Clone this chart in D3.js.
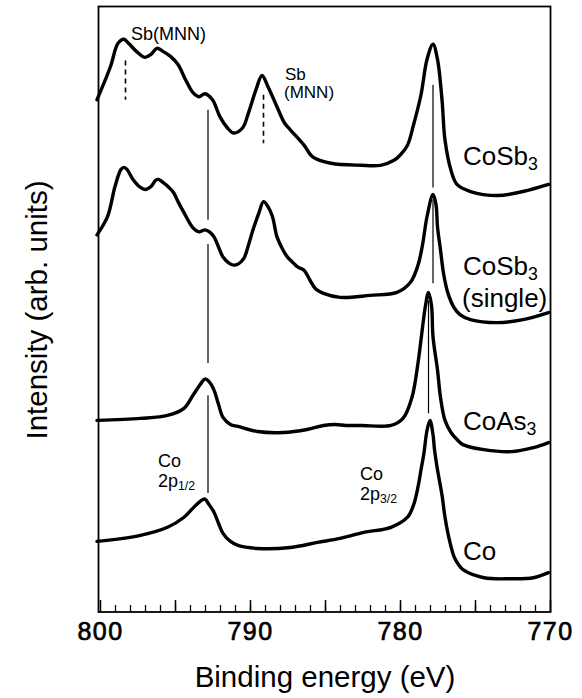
<!DOCTYPE html>
<html>
<head>
<meta charset="utf-8">
<script src="https://cdn.jsdelivr.net/npm/d3@7"></script>
<style>
  body { margin: 0; background: #fff; }
  svg { display: block; font-family: "Liberation Sans", Arial, Helvetica, sans-serif; }
</style>
</head>
<body>
<svg id="chart" width="582" height="698"></svg>
<script>
// spectra: [binding energy (eV), intensity (arb. units, offset stacked)]
var coSb3 = [
  [800.2,50.8],[799.3,54.1],[798.8,56.4],[798.4,56.8],[798.1,56.4],[797.5,55.5],[797.0,55.0],
  [796.6,55.3],[796.2,55.9],[795.8,55.6],[795.3,55.1],[794.8,54.3],[794.3,52.8],[793.8,51.5],
  [793.4,51.1],[793.0,51.4],[792.5,50.8],[792.0,49.1],[791.5,48.0],[791.1,47.5],[790.5,48.0],
  [790.1,49.5],[789.6,51.8],[789.2,53.2],[788.8,52.1],[788.2,50.1],[787.7,48.5],[787.3,47.8],
  [786.4,46.3],[785.8,45.1],[784.6,44.5],[782.6,44.3],[781.3,44.3],[780.4,44.8],[780.0,45.3],
  [779.5,46.3],[779.1,48.3],[778.6,51.3],[778.2,54.8],[777.8,56.3],[777.5,54.8],[777.2,50.8],
  [777.0,46.8],[776.6,43.8],[776.2,42.4],[775.3,41.7],[773.5,41.3],[771.8,41.7],[770.1,42.4]
];
var coSb3Single = [
  [800.2,37.4],[799.5,39.2],[799.0,42.2],[798.6,43.9],[798.4,44.1],[798.2,43.9],[797.8,42.9],
  [797.3,42.1],[797.0,41.9],[796.6,42.2],[796.3,42.8],[796.1,42.9],[795.8,42.6],[795.4,42.1],
  [795.1,41.6],[794.8,40.7],[794.4,39.6],[793.8,38.1],[793.4,37.7],[793.0,37.9],[792.7,37.7],
  [792.4,37.2],[792.1,36.2],[791.8,35.2],[791.4,34.6],[791.1,34.4],[790.8,34.5],[790.4,35.1],
  [790.1,36.4],[789.8,37.9],[789.4,39.6],[789.1,40.7],[788.8,40.2],[788.5,39.2],[788.2,37.2],
  [787.8,35.9],[787.5,35.2],[787.1,34.6],[786.8,34.2],[786.4,33.9],[786.0,32.9],[785.6,32.0],
  [785.1,31.6],[784.0,31.2],[782.0,31.4],[780.2,31.7],[779.3,32.7],[778.8,34.4],[778.5,36.4],
  [778.2,39.2],[777.8,41.4],[777.6,40.4],[777.5,38.2],[777.3,35.9],[777.1,33.6],[776.8,31.6],
  [776.4,30.2],[776.0,29.5],[775.3,29.0],[773.5,28.7],[771.8,29.0],[770.1,29.7]
];
var coAs3 = [
  [800.2,19.0],[797.3,19.2],[795.5,19.5],[794.4,20.2],[793.8,21.5],[793.3,22.6],[793.0,23.1],
  [792.7,22.8],[792.4,22.0],[792.1,20.6],[791.8,19.3],[791.3,18.6],[790.8,18.4],[789.5,17.9],
  [787.8,17.8],[786.2,18.1],[785.1,18.5],[784.3,18.6],[783.6,18.5],[782.6,18.5],[780.6,18.5],
  [779.8,19.2],[779.2,21.3],[778.8,24.7],[778.6,27.0],[778.3,30.4],[778.1,31.7],[777.9,30.4],
  [777.8,27.3],[777.5,24.0],[777.3,21.3],[777.0,19.0],[776.6,17.8],[776.2,17.1],[775.8,16.6],
  [774.4,16.1],[772.6,15.9],[771.1,16.3],[770.1,16.8]
];
var coMetal = [
  [800.2,7.0],[797.3,7.6],[795.5,8.4],[794.4,9.4],[793.8,10.3],[793.3,11.0],[793.0,11.2],
  [792.8,10.8],[792.4,9.9],[792.1,8.8],[791.8,7.8],[791.3,7.0],[790.8,6.6],[789.5,6.3],
  [787.3,6.4],[785.5,6.9],[784.0,7.3],[782.4,7.9],[780.6,8.4],[779.5,9.4],[779.1,10.6],
  [778.8,12.4],[778.6,14.1],[778.4,15.8],[778.2,18.0],[778.0,19.0],[777.8,17.6],[777.7,16.1],
  [777.5,14.1],[777.2,11.6],[777.0,9.4],[776.7,7.1],[776.4,5.5],[776.1,4.7],[775.8,4.2],
  [774.4,3.4],[772.6,3.3],[771.1,3.4],[770.1,3.9]
];

var minorTicks = d3.range(799, 770, -1);
var majorTicks = [800, 795, 790, 785, 780, 775, 770];
var tickLabels = [800, 790, 780, 770];

// marker lines: [energy, intensity from, intensity to]
var solidMarks = [
  [792.8, 49.8, 38.9], [792.8, 36.5, 24.7], [792.8, 21.5, 11.8],
  [777.8, 52.3, 42.1], [777.8, 40.9, 32.6], [778.1, 30.9, 19.7]
];
var dashedMarks = [[798.3, 54.7, 50.8], [789.1, 51.3, 46.5]];

var svg = d3.select("#chart");
var frameL = 98.5, frameR = 550.5, frameT = 6.5, frameB = 612;

var x = d3.scaleLinear().domain([800, 770]).range([100, 550]);
var y = d3.scaleLinear().domain([0, 60]).range([frameB, 7]);

// frame
svg.append("rect")
  .attr("x", frameL).attr("y", frameT)
  .attr("width", frameR - frameL).attr("height", frameB - frameT)
  .attr("fill", "none").attr("stroke", "#000").attr("stroke-width", 1.8);

// inward ticks
svg.append("g").attr("transform", "translate(0," + frameB + ")")
  .call(d3.axisBottom(x).tickValues(minorTicks).tickSize(-7).tickFormat(""))
  .call(g => g.select(".domain").remove())
  .call(g => g.selectAll("line").attr("stroke-width", 1.3));

svg.append("g").attr("transform", "translate(0," + frameB + ")")
  .call(d3.axisBottom(x).tickValues(majorTicks).tickSize(-12).tickFormat(""))
  .call(g => g.select(".domain").remove())
  .call(g => g.selectAll("line").attr("stroke-width", 1.5));

var labelAxis = svg.append("g").attr("transform", "translate(0," + frameB + ")")
  .call(d3.axisBottom(x).tickValues(tickLabels).tickSize(0).tickPadding(10).tickFormat(d3.format("d")));
labelAxis.select(".domain").remove();
labelAxis.selectAll("text")
  .attr("font-size", 25)
  .attr("font-family", "'Liberation Sans', Arial, sans-serif")
  .attr("letter-spacing", 1.5)
  .attr("fill", "#000")
  .attr("stroke", "#000").attr("stroke-width", 0.7);

// marker lines
svg.append("g").selectAll("line")
  .data(solidMarks).enter().append("line")
  .attr("x1", d => x(d[0])).attr("x2", d => x(d[0]))
  .attr("y1", d => y(d[1])).attr("y2", d => y(d[2]))
  .attr("stroke", "#000").attr("stroke-width", 1.2);

svg.append("g").selectAll("line")
  .data(dashedMarks).enter().append("line")
  .attr("x1", d => x(d[0])).attr("x2", d => x(d[0]))
  .attr("y1", d => y(d[1])).attr("y2", d => y(d[2]))
  .attr("stroke", "#000").attr("stroke-width", 1.6)
  .attr("stroke-dasharray", "5,4");

// spectra
var line = d3.line()
  .x(d => x(d[0]))
  .y(d => y(d[1]))
  .curve(d3.curveCatmullRom.alpha(0.5));

svg.append("g").selectAll("path")
  .data([coSb3, coSb3Single, coAs3, coMetal]).enter().append("path")
  .attr("d", line)
  .attr("fill", "none")
  .attr("stroke", "#000")
  .attr("stroke-width", 3.4)
  .attr("stroke-linejoin", "round")
  .attr("stroke-linecap", "round");

// text helpers
function label(xp, yp, size, parts) {
  var t = svg.append("text").attr("x", xp).attr("y", yp).attr("font-size", size).attr("fill", "#000");
  parts.forEach(function (p) {
    if (typeof p === "string") {
      t.append("tspan").text(p);
    } else {
      t.append("tspan").attr("font-size", size * 0.68).attr("dy", size * 0.18).text(p.sub);
    }
  });
  return t;
}

// sample labels
label(463, 165, 26, ["CoSb", {sub: "3"}]);
label(463, 275, 26, ["CoSb", {sub: "3"}]);
label(462, 307, 26, ["(single)"]);
label(463, 430, 26, ["CoAs", {sub: "3"}]);
label(463, 560, 26, ["Co"]);

// peak labels
label(131, 40, 18, ["Sb(MNN)"]);
label(285, 80, 17, ["Sb"]);
label(284, 98, 17, ["(MNN)"]);
label(158, 467, 18, ["Co"]);
label(158, 487, 18, ["2p", {sub: "1/2"}]);
label(360, 480, 18, ["Co"]);
label(360, 500, 18, ["2p", {sub: "3/2"}]);

// axis titles
svg.append("text")
  .attr("x", 325).attr("y", 687)
  .attr("text-anchor", "middle")
  .attr("font-size", 29.5)
  .text("Binding energy (eV)");

svg.append("text")
  .attr("transform", "translate(47,310) rotate(-90)")
  .attr("text-anchor", "middle")
  .attr("font-size", 29.5)
  .text("Intensity (arb. units)");
</script>
</body>
</html>
